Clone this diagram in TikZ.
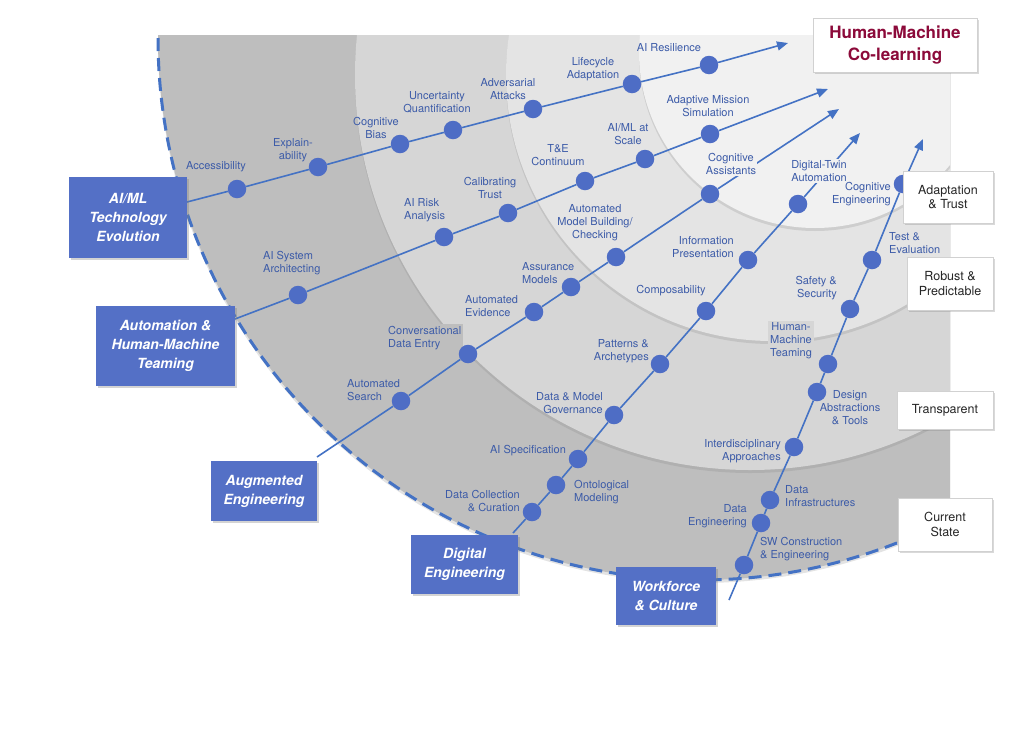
\documentclass[tikz,border=0pt]{standalone}
\usepackage{fontspec}
\setmainfont{TeX Gyre Heros}
\usepackage{tikz}
\usetikzlibrary{positioning, shapes, shadows, arrows.meta}

\definecolor{TrackBlue}{HTML}{4472C4}
\definecolor{DotBlue}{HTML}{4E6DC5}
\definecolor{TextBlue}{HTML}{3C5BA8}
\definecolor{BoxBlue}{HTML}{5470C6}
\definecolor{GrayA}{HTML}{BEBEBE}
\definecolor{GrayB}{HTML}{D6D6D6}
\definecolor{GrayC}{HTML}{E4E4E4}
\definecolor{GrayD}{HTML}{F1F1F1}
\definecolor{CoRed}{HTML}{8C0A3A}

\begin{document}
\begin{tikzpicture}[x=1pt, y=-1pt,
  ring/.style={drop shadow={opacity=0.22, shadow xshift=0pt, shadow yshift=-3pt}},
  track/.style={draw=TrackBlue, line width=1.6pt, -{Triangle[length=11pt, width=9pt]}},
  dot/.style={circle, fill=DotBlue, minimum size=18.5pt, inner sep=0pt},
  lbl/.style={text=TextBlue, font=\fontsize{11}{13}\selectfont, align=center, inner sep=1pt},
  lbll/.style={lbl, anchor=west, align=left},
  lblr/.style={lbl, anchor=east, align=right},
  area/.style={fill=BoxBlue, text=white, font=\fontsize{14}{19}\selectfont\bfseries\itshape, align=center,
    drop shadow={opacity=0.35, shadow xshift=1.5pt, shadow yshift=-1.5pt}},
  stage/.style={draw=black!18, fill=white, text=black!85, font=\fontsize{12.5}{14.5}\selectfont, align=center,
    drop shadow={opacity=0.3, shadow xshift=2pt, shadow yshift=-2pt}}]
\useasboundingbox (0,0) rectangle (1024,734);

\coordinate (O1) at (700,38);
\coordinate (O2) at (750,75);
\coordinate (O3) at (772,75);
\coordinate (O4) at (815,52);

\begin{scope}
\clip (0,35) rectangle (950,734);
\fill[GrayA, ring] (O1) circle[radius=542pt];
\fill[GrayB, ring] (O2) circle[radius=395pt];
\fill[GrayC, ring] (O3) circle[radius=266pt];
\fill[GrayD, ring] (O4) circle[radius=176pt];
\end{scope}
\draw[TrackBlue, line width=3pt, dash pattern=on 13pt off 7pt] (O1) ++(180:542pt) arc[start angle=180, end angle=292, radius=542pt];

\node[lbll, fill=GrayA, inner sep=2pt] (lCDE) at (386,338) {Conversational\\Data Entry};

% tracks
\coordinate (s1) at (187,202);
\coordinate (e1) at (788,43);
\node[dot] (Acc) at (237,189) {};
\node[dot] (Expl) at (318,167) {};
\node[dot] (CogB) at (400,144) {};
\node[dot] (UncQ) at (453,130) {};
\node[dot] (AdvA) at (533,109) {};
\node[dot] (LifA) at (632,84) {};
\node[dot] (AIRes) at (709,65) {};
\draw[track] (s1) -- (Acc) -- (Expl) -- (CogB) -- (UncQ) -- (AdvA) -- (LifA) -- (AIRes) -- (e1);

\coordinate (s2) at (235,319);
\coordinate (e2) at (828,89);
\node[dot] (ASA) at (298,295) {};
\node[dot] (ARA) at (444,237) {};
\node[dot] (CalT) at (508,213) {};
\node[dot] (TEC) at (585,181) {};
\node[dot] (AIMS) at (645,159) {};
\node[dot] (AMS) at (710,134) {};
\draw[track] (s2) -- (ASA) -- (ARA) -- (CalT) -- (TEC) -- (AIMS) -- (AMS) -- (e2);

\coordinate (s3) at (317,457);
\coordinate (e3) at (839,109);
\node[dot] (ASr) at (401,401) {};
\node[dot] (CDE) at (468,354) {};
\node[dot] (AEv) at (534,312) {};
\node[dot] (AsM) at (571,287) {};
\node[dot] (AMB) at (616,257) {};
\node[dot] (CgA) at (710,194) {};
\draw[track] (s3) -- (ASr) -- (CDE) -- (AEv) -- (AsM) -- (AMB) -- (CgA) -- (e3);

\coordinate (s4) at (513,533);
\coordinate (e4) at (860,133);
\node[dot] (DCC) at (532,512) {};
\node[dot] (OnM) at (556,485) {};
\node[dot] (AISp) at (578,459) {};
\node[dot] (DMG) at (614,415) {};
\node[dot] (PaA) at (660,364) {};
\node[dot] (Cmp) at (706,311) {};
\node[dot] (InP) at (748,260) {};
\node[dot] (DTA) at (798,204) {};
\draw[track] (s4) -- (DCC) -- (OnM) -- (AISp) -- (DMG) -- (PaA) -- (Cmp) -- (InP) -- (DTA) -- (e4);

\coordinate (s5) at (729,600);
\coordinate (e5) at (923,139);
\node[dot] (SWC) at (744,565) {};
\node[dot] (DatE) at (761,523) {};
\node[dot] (DatI) at (770,500) {};
\node[dot] (IdA) at (794,447) {};
\node[dot] (DAT) at (817,392) {};
\node[dot] (HMT) at (828,364) {};
\node[dot] (SaS) at (850,309) {};
\node[dot] (TaE) at (872,260) {};
\node[dot] (CgE) at (903,184) {};
\draw[track] (s5) -- (SWC) -- (DatE) -- (DatI) -- (IdA) -- (DAT) -- (HMT) -- (SaS) -- (TaE) -- (CgE) -- (e5);

% labels
\node[lbl] (lAcc) at (216,167) {Accessibility};
\node[lbl] (lExpl) at (293,150) {Explain-\\ability};
\node[lbl] (lCogB) at (376,128) {Cognitive\\Bias};
\node[lbl] (lUncQ) at (437,102) {Uncertainty\\Quantification};
\node[lbl] (lAdvA) at (508,89) {Adversarial\\Attacks};
\node[lbl] (lLifA) at (593,69) {Lifecycle\\Adaptation};
\node[lbl] (lAIRes) at (669,48) {AI Resilience};

\node[lbll] (lASA) at (262,263) {AI System\\Architecting};
\node[lbll] (lARA) at (403,210) {AI Risk\\Analysis};
\node[lbl] (lCalT) at (490,188) {Calibrating\\Trust};
\node[lbl] (lTEC) at (558,155) {T\&E\\Continuum};
\node[lbl] (lAIMS) at (628,134) {AI/ML at\\Scale};
\node[lbl] (lAMS) at (708,106) {Adaptive Mission\\Simulation};

\node[lbll] (lASr) at (346,390) {Automated\\Search};
\node[lbll] (lAEv) at (464,306) {Automated\\Evidence};
\node[lbll] (lAsM) at (521,273) {Assurance\\Models};
\node[lbl] (lAMB) at (595,223) {Automated\\Model Building/\\Checking};
\node[lbl, fill=GrayD] (lCgA) at (731,164) {Cognitive\\Assistants};

\node[lblr] (lDCC) at (521,501) {Data Collection\\\& Curation};
\node[lbll] (lOnM) at (573,492) {Ontological\\Modeling};
\node[lbl] (lAISp) at (528,451) {AI Specification};
\node[lblr] (lDMG) at (604,403) {Data \& Model\\Governance};
\node[lblr] (lPaA) at (650,351) {Patterns \&\\Archetypes};
\node[lbl] (lCmp) at (671,291) {Composability};
\node[lblr] (lInP) at (735,247) {Information\\Presentation};
\node[lbl, fill=GrayD] (lDTA) at (819,171) {Digital-Twin\\Automation};

\node[lbll] (lSWC) at (759,549) {SW Construction\\\& Engineering};
\node[lblr] (lDatE) at (748,516) {Data\\Engineering};
\node[lbll] (lDatI) at (784,496) {Data\\Infrastructures};
\node[lblr] (lIdA) at (782,451) {Interdisciplinary\\Approaches};
\node[lbl] (lDAT) at (850,408) {Design\\Abstractions\\\& Tools};
\node[lbl, fill=GrayB, inner sep=2pt] (lHMT) at (791,341) {Human-\\Machine\\Teaming};
\node[lblr] (lSaS) at (838,288) {Safety \&\\Security};
\node[lbll] (lTaE) at (888,243) {Test \&\\Evaluation};
\node[lblr] (lCgE) at (892,194) {Cognitive\\Engineering};

% areas
\node[area, minimum width=118pt, minimum height=81pt] (AIML) at (128,217.5) {AI/ML\\Technology\\Evolution};
\node[area, minimum width=139pt, minimum height=80pt] (AHMT) at (165.5,346) {Automation \&\\Human-Machine\\Teaming};
\node[area, minimum width=106pt, minimum height=60pt] (AugE) at (264,491) {Augmented\\Engineering};
\node[area, minimum width=107pt, minimum height=59pt] (DigE) at (464.5,564.5) {Digital\\Engineering};
\node[area, minimum width=100pt, minimum height=58pt] (WfC) at (666,596) {Workforce\\\& Culture};

% stages
\node[stage, minimum width=164pt, minimum height=54pt, text=CoRed, font=\fontsize{17}{22}\selectfont\bfseries] (HMC) at (895,45) {Human-Machine\\Co-learning};
\node[stage, minimum width=90pt, minimum height=52pt] (AdT) at (948,197) {Adaptation\\\& Trust};
\node[stage, minimum width=86pt, minimum height=53pt] (RbP) at (950,283.5) {Robust \&\\Predictable};
\node[stage, minimum width=96pt, minimum height=38pt] (Trn) at (945,410) {Transparent};
\node[stage, minimum width=94pt, minimum height=53pt] (CuS) at (945,524.5) {Current\\State};
\end{tikzpicture}
\end{document}
